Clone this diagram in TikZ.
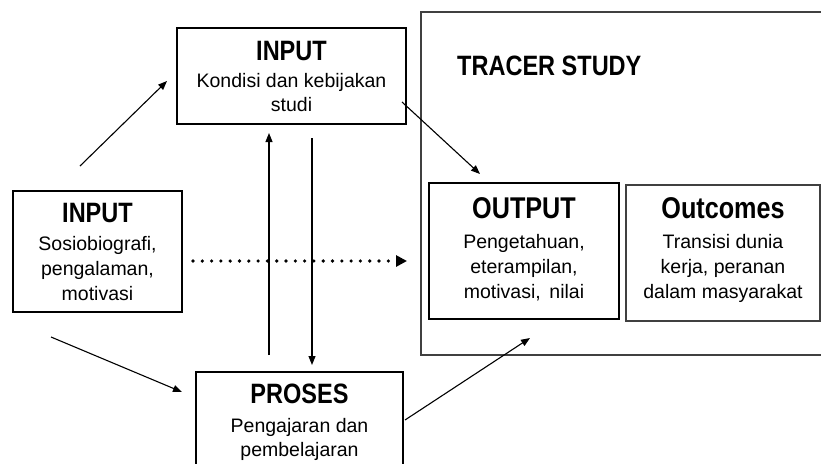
\documentclass[tikz,border=0pt]{standalone}
\usepackage{fontspec}
\setmainfont{Liberation Sans}
\newfontfamily\condfont[FakeStretch=0.84]{Liberation Sans}
\usetikzlibrary{arrows.meta}
\begin{document}
\begin{tikzpicture}[x=1pt,y=-1pt,
  box/.style={draw, line width=2.6pt, inner sep=0pt},
  thinbox/.style={draw=black!75, line width=1.8pt, inner sep=0pt},
  ttl/.style={font=\condfont\bfseries\fontsize{28}{30}\selectfont, inner sep=0pt, anchor=base},
  bigttl/.style={font=\condfont\bfseries\fontsize{30}{32}\selectfont, inner sep=0pt, anchor=base},
  txt/.style={font=\fontsize{19.5}{24}\selectfont, inner sep=0pt, anchor=base},
  arr/.style={line width=1.1pt, -{Triangle[length=9pt,width=7pt]}},
  dotarr/.style={line width=3.6pt, line cap=round, dash pattern=on 0pt off 9.3pt, -{Triangle[length=11pt,width=11pt]}},
]
\useasboundingbox (0,0) rectangle (821,463);
\clip (0,0) rectangle (821,463);

% Tracer study frame
\node[thinbox, minimum width=419pt, minimum height=343pt] (tracer) at (630.5,183.5) {};
\node[ttl, anchor=base west] (tracert) at (457,75) {TRACER STUDY};

% Top INPUT
\node[box, minimum width=229pt, minimum height=96pt] (in1) at (291.5,76) {};
\node[ttl] (in1t) at (291.5,60) {INPUT};
\node[txt] (in1a) at (291.5,87.3) {Kondisi dan kebijakan};
\node[txt] (in1b) at (291.5,111.7) {studi};

% Left INPUT
\node[box, minimum width=169pt, minimum height=121pt] (in2) at (97.5,251.5) {};
\node[ttl] (in2t) at (97.5,222.7) {INPUT};
\node[txt] (in2a) at (97.5,250) {Sosiobiografi,};
\node[txt] (in2b) at (97.5,275) {pengalaman,};
\node[txt] (in2c) at (97.5,300) {motivasi};

% PROSES
\node[box, minimum width=207pt, minimum height=108pt] (pro) at (299.5,426) {};
\node[ttl] (prot) at (299.5,403.3) {PROSES};
\node[txt] (proa) at (299.5,432.7) {Pengajaran dan};
\node[txt] (prob) at (299.5,456.7) {pembelajaran};

% OUTPUT
\node[box, minimum width=190pt, minimum height=136pt] (out) at (524,251) {};
\node[bigttl] (outt) at (524,218.3) {OUTPUT};
\node[txt] (outa) at (524,248.3) {Pengetahuan,};
\node[txt] (outb) at (524,273.3) {eterampilan,};
\node[txt] (outc) at (524,298.3) {motivasi,\ \,nilai};

% Outcomes
\node[thinbox, minimum width=194pt, minimum height=136pt] (oc) at (723,253) {};
\node[bigttl] (oct) at (723,218.3) {Outcomes};
\node[txt] (oca) at (723,248.3) {Transisi dunia};
\node[txt] (ocb) at (723,273.3) {kerja, peranan};
\node[txt] (occ) at (723,298.3) {dalam masyarakat};

% connector end points
\coordinate (a1s) at (80,166);   \coordinate (a1e) at (167,81);
\coordinate (ups) at (269,355);  \coordinate (upe) at (269,133);
\coordinate (dns) at (312,138);  \coordinate (dne) at (312,365);
\coordinate (ios) at (402,102);  \coordinate (ioe) at (480,174);
\coordinate (dts) at (193,261);  \coordinate (dte) at (407,261);
\coordinate (lps) at (51,337);   \coordinate (lpe) at (182,392);
\coordinate (pos) at (405,420);  \coordinate (poe) at (530,338);

\draw[arr] (a1s) -- (a1e);
\draw[arr] (ups) -- (upe);
\draw[arr] (dns) -- (dne);
\draw[arr] (ios) -- (ioe);
\draw[dotarr] (dts) -- (dte);
\draw[arr] (lps) -- (lpe);
\draw[arr] (pos) -- (poe);
\end{tikzpicture}
\end{document}
